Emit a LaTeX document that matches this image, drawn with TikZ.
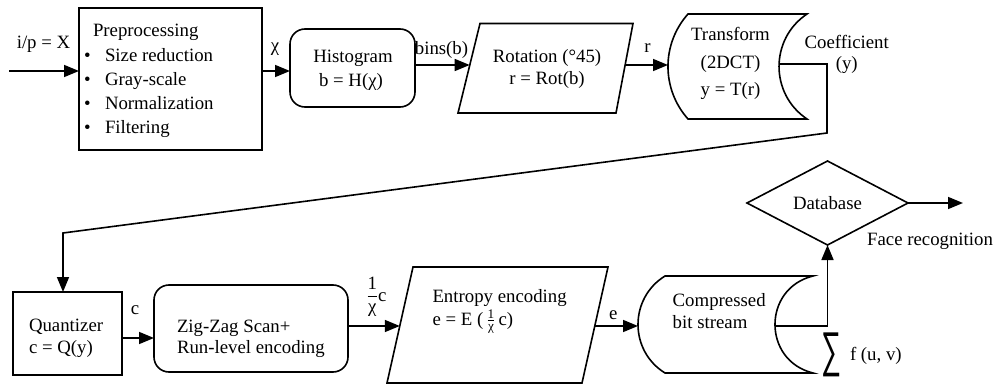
\documentclass[tikz,border=0pt]{standalone}
\usepackage{fontspec}
\setmainfont{Liberation Serif}
\newfontfamily\opfont{Liberation Sans}
\usepackage{amsmath}
\usepackage{graphicx}
\usetikzlibrary{arrows.meta,shapes.geometric,calc}

\begin{document}
\begin{tikzpicture}[x=1pt,y=-1pt,
  line width=1.6pt,
  every node/.style={inner sep=0pt, outer sep=0pt,
    font=\fontsize{18.8pt}{24pt}\selectfont},
  arr/.style={-{Triangle[length=15pt,width=12pt]}},
  plainbox/.style={draw, rectangle},
  roundbox/.style={draw, rectangle, rounded corners=15pt},
  frame/.style={rectangle, draw=none},
  txt/.style={anchor=base},
  txtl/.style={anchor=base west},
  dbshape/.style={draw, diamond, aspect=1.92, minimum width=161pt, minimum height=84pt},
]
\useasboundingbox (0,0) rectangle (998,385);

% ---------------- top row ----------------
\coordinate (in) at (9,71);
\node[txt] (ipx) at (43.5,49) {i/p = X};
\node[plainbox, minimum width=183pt, minimum height=142pt] (pre) at (170.5,79) {};
\node[txtl] (pretitle) at (93,37) {Preprocessing};
\node[txt] (b1) at (87.5,62) {•};
\node[txt] (b2) at (87.5,86) {•};
\node[txt] (b3) at (87.5,110) {•};
\node[txt] (b4) at (87.5,134) {•};
\node[txtl] (i1) at (105,62) {Size reduction};
\node[txtl] (i2) at (105,86) {Gray-scale};
\node[txtl] (i3) at (105,110) {Normalization};
\node[txtl] (i4) at (105,134) {Filtering};

\node[roundbox, minimum width=125pt, minimum height=78pt] (hist) at (352.5,68) {};
\node[txt] (hist1) at (353,62.5) {Histogram};
\node[txt] (hist2) at (351,87) {b = H(χ)};

% rotation parallelogram
\coordinate (rotA) at (458,113);
\coordinate (rotB) at (480,23.5);
\coordinate (rotC) at (633,23.5);
\coordinate (rotD) at (616,113);
\draw (rotA) -- (rotB) -- (rotC) -- (rotD) -- cycle;
\coordinate (rotIn) at (469.7,65);
\coordinate (rotOut) at (625,65);
\node[txt] (rot1) at (547,63) {Rotation (°45)};
\node[txt] (rot2) at (547,85) {r = Rot(b)};

% transform (stored-data outline)
\node[frame, minimum width=139pt, minimum height=105pt] (trans) at (737.5,66.5) {};
\draw (750,14) -- (807,14)
  .. controls (769.7,39) and (769.7,94) .. (807,119)
  -- (688,119)
  .. controls (661.3,89) and (661.3,44) .. (688,14) -- cycle;
\coordinate (transOut) at (779,64);
\node[txt] (tr1) at (730.5,41) {Transform};
\node[txt] (tr2) at (730.5,68.5) {(2DCT)};
\node[txt] (tr3) at (730.5,96) {y = T(r)};
\node[txt] (coef1) at (846.7,49) {Coefficient};
\node[txt] (coef2) at (846.7,70) {(y)};

% top-row connectors
\draw[arr] (in) -- (in -| pre.west);
\draw[arr] (pre.east |- in) -- (hist.west |- in);
\node[txt] (chi) at (275,52) {χ};
\draw[arr] (hist.east |- rotIn) -- (rotIn);
\node[txt] (bins) at (441.5,55) {bins(b)};
\draw[arr] (rotOut) -- (rotOut -| trans.west);
\node[txt] (rlab) at (647.5,53) {r};

% ---------------- bottom row ----------------
\node[plainbox, minimum width=109pt, minimum height=83pt] (quant) at (67.5,333.5) {};
\node[txtl] (q1) at (29,331) {Quantizer};
\node[txtl] (q2) at (29,353) {c = Q(y)};

\node[roundbox, minimum width=194pt, minimum height=87pt] (zig) at (251,328.5) {};
\node[txtl] (z1) at (177,332) {Zig-Zag Scan+};
\node[txtl] (z2) at (177,353.5) {Run-level encoding};

% entropy parallelogram
\coordinate (entA) at (387,383);
\coordinate (entB) at (413,267);
\coordinate (entC) at (608,267);
\coordinate (entD) at (582,383);
\draw (entA) -- (entB) -- (entC) -- (entD) -- cycle;
\coordinate (entIn) at (399.8,326);
\coordinate (entOut) at (594.8,326);
\node[txtl] (en1) at (432.5,302) {Entropy encoding};
\node[txtl] (en2) at (432.5,325) {e = E (\,$\tfrac{\text{1}}{\text{χ}}$\,c)};

% compressed bit stream (stored-data outline)
\node[frame, minimum width=175pt, minimum height=97pt] (comp) at (725.5,324.5) {};
\draw (740,276) -- (813,276)
  .. controls (762.3,288.5) and (762.3,360.5) .. (813,373)
  -- (665,373)
  .. controls (629,350.7) and (629,298.3) .. (665,276) -- cycle;
\coordinate (compOut) at (775,326);
\node[txtl] (c1) at (672.7,306) {Compressed};
\node[txtl] (c2) at (672.7,328) {bit stream};
\node (sum) at (831.7,355) {\resizebox*{20pt}{44pt}{\opfont\fontsize{30pt}{30pt}\selectfont ∑}};
\node[txtl] (fuv) at (850,360) {f (u, v)};

\node[dbshape] (db) at (827.5,203) {Database};
\coordinate (face) at (963,203);
\node[txt] (facelab) at (930,245) {Face recognition};

% bottom-row connectors
\coordinate (k1) at (827,133);
\coordinate (k2) at (63,233);
\draw[arr] (transOut) -| (k1) -- (k2) -- (k2 |- quant.north);
\coordinate (qOut) at (122,338);
\draw[arr] (qOut) -- (qOut -| zig.west);
\node[txt] (clab) at (135,314) {c};
\draw[arr] (zig.east |- entIn) -- (entIn);
\node (frac) at (376.5,297) {$\dfrac{\text{1}}{\text{χ}}\text{c}$};
\draw[arr] (entOut) -- (entOut -| comp.west);
\node[txt] (elab) at (613.3,319) {e};
\draw[arr] (compOut) -| (db.south);
\draw[arr] (db.east) -- (face);
\end{tikzpicture}
\end{document}
